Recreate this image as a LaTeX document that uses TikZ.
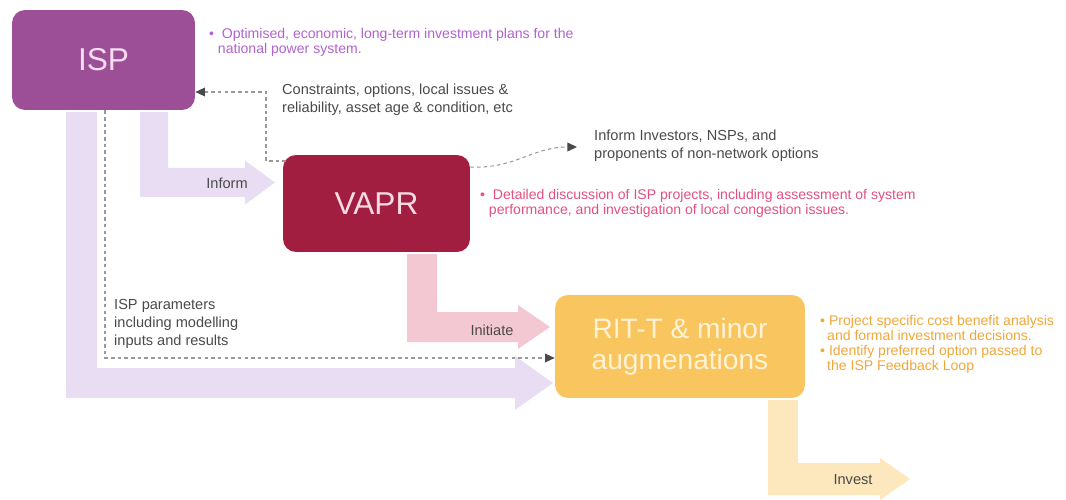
\documentclass[tikz,border=0pt]{standalone}
\usepackage{fontspec}
\setmainfont{Liberation Sans}
\usetikzlibrary{arrows.meta}
\definecolor{colorIsp}{HTML}{9C4F97}
\definecolor{colorIspText}{HTML}{F6DDF2}
\definecolor{colorIspBand}{HTML}{E9DDF3}
\definecolor{colorIspNote}{HTML}{B063CF}
\definecolor{colorVapr}{HTML}{A11E40}
\definecolor{colorVaprText}{HTML}{F8DCE3}
\definecolor{colorVaprBand}{HTML}{F4C8D3}
\definecolor{colorVaprNote}{HTML}{E4507F}
\definecolor{colorRit}{HTML}{F9C55F}
\definecolor{colorRitText}{HTML}{FFF3D6}
\definecolor{colorRitBand}{HTML}{FDE7BD}
\definecolor{colorRitNote}{HTML}{F0A73A}
\definecolor{colorLabel}{HTML}{4A4A4A}
\definecolor{colorDash}{HTML}{999999}
\newcommand\smallFont{\fontsize{8.3pt}{10.2pt}\selectfont}
\newcommand\noteFont{\fontsize{8pt}{8.4pt}\selectfont}
% L-shaped fat arrow: colour, x left, x right, y start, band top, band bottom, head start, tip, head half height
\newcommand\drawFatArrow[9]{
	\fill[#1] (#2,#4) -- (#3,#4) -- (#3,#5) -- (#7,#5) -- (#7,{(#5+#6)/2-#9})
		-- (#8,{(#5+#6)/2}) -- (#7,{(#5+#6)/2+#9}) -- (#7,#6) -- (#2,#6) -- cycle;
}
\tikzset{
	stagebox/.style={rounded corners=0.26cm, inner sep=0pt, align=center},
	bandlabel/.style={text=colorLabel, font=\smallFont},
	sidetext/.style={text=colorLabel, font=\smallFont, anchor=west, align=left},
	notetext/.style={font=\noteFont, anchor=west, align=left},
	dasharrow/.style={draw=colorDash, line width=0.6pt, dash pattern=on 2pt off 1.8pt,
		-{Triangle[length=5.5pt, width=5pt, color=colorLabel, fill=colorLabel]}},
}
\begin{document}
\begin{tikzpicture}[x=0.02cm, y=-0.02cm]
		\useasboundingbox (0,0) rectangle (1066,500);
		
		\drawFatArrow{colorIspBand}{66}{97}{112}{368}{398}{515}{553}{27}
		\drawFatArrow{colorIspBand}{140}{168}{112}{168}{197}{245}{275}{22}
		\drawFatArrow{colorVaprBand}{407}{437}{254}{312}{342}{518}{550}{22}
		\drawFatArrow{colorRitBand}{768}{798}{400}{463}{495}{880}{910}{21}
		
		\node[stagebox, fill=colorIsp, text=colorIspText, minimum width=3.66cm, minimum height=2cm,
			font=\fontsize{18pt}{20pt}\selectfont] (isp) at (103.5,60) {ISP};
		\node[stagebox, fill=colorVapr, text=colorVaprText, minimum width=3.74cm, minimum height=1.94cm,
			font=\fontsize{18pt}{20pt}\selectfont] (vapr) at (376.5,203.5) {VAPR};
		\node[stagebox, fill=colorRit, text=colorRitText, minimum width=5cm, minimum height=2.06cm,
			font=\fontsize{16pt}{17.5pt}\selectfont] (rit) at (680,346.5) {RIT-T \& minor\\augmenations};
		
		\node[bandlabel] (informLabel) at (227,183) {Inform};
		\node[bandlabel] (initiateLabel) at (492,330) {Initiate};
		\node[bandlabel] (investLabel) at (853,480) {Invest};
		
		\node[sidetext] (constraintsText) at (276,100) {Constraints, options, local issues \&\\reliability, asset age \& condition, etc};
		\node[sidetext] (investorsText) at (588,146) {Inform Investors, NSPs, and\\proponents of non-network options};
		\node[sidetext] (paramsText) at (108,324) {ISP parameters\\including modelling\\inputs and results};
		
		\node[notetext, text=colorIspNote] (ispNote) at (203,42)
			{\textbullet\ \ Optimised, economic, long-term investment plans for the\\\hspace*{5pt}national power system.};
		\node[notetext, text=colorVaprNote] (vaprNote) at (474,203)
			{\textbullet\ \ Detailed discussion of ISP projects, including assessment of system\\\hspace*{5pt}performance, and investigation of local congestion issues.};
		\node[notetext, text=colorRitNote] (ritNote) at (814,344.5)
			{\textbullet\ Project specific cost benefit analysis\\\hspace*{4pt}and formal investment decisions.\\\textbullet\ Identify preferred option passed to\\\hspace*{4pt}the ISP Feedback Loop};
		
		% dashed connectors
		\coordinate (paramsDrop) at (105,0);
		\coordinate (paramsEnd) at (0,358);
		\draw[dasharrow] (isp.south -| paramsDrop) |- (rit.west |- paramsEnd);
		
		\coordinate (vaprTap) at (286,161);
		\coordinate (constraintsBend) at (266,92);
		\draw[dasharrow] (vaprTap) -| (constraintsBend) -- (isp.east |- constraintsBend);
		
		\coordinate (investorsTip) at (577,147);
		\draw[dasharrow] ([yshift=0.73cm]vapr.east) .. controls +(45,2) and +(-45,0) .. (investorsTip);
	\end{tikzpicture}
\end{document}
